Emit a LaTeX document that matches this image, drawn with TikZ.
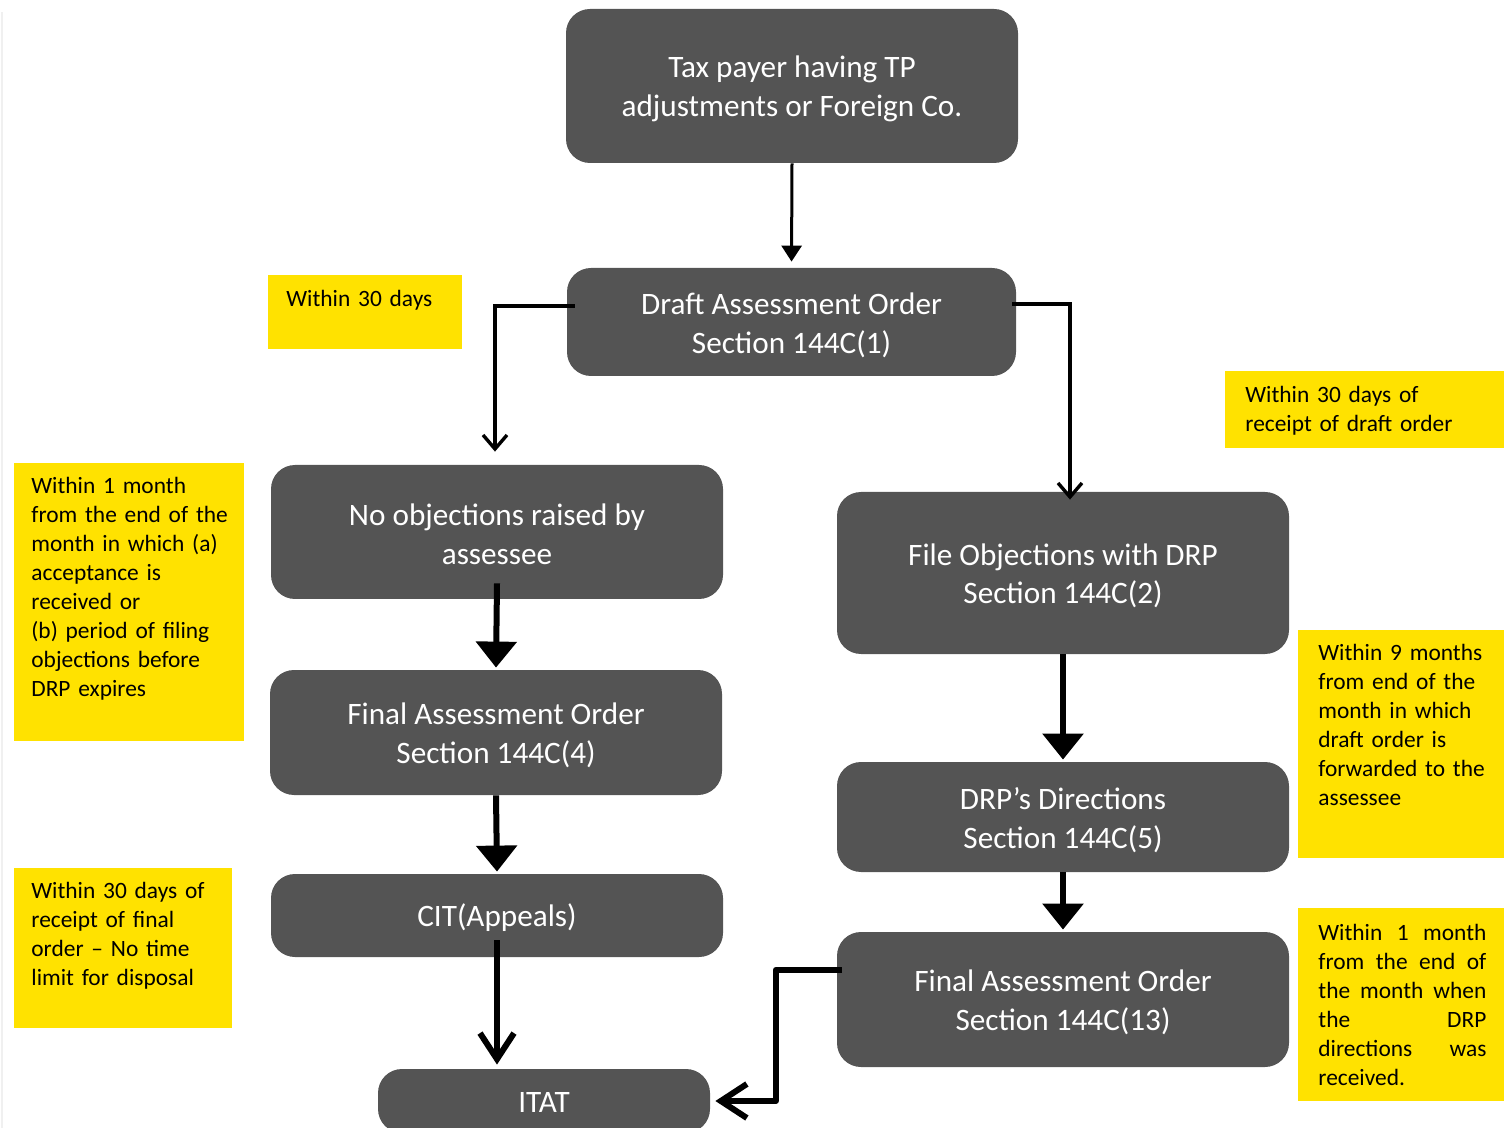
\documentclass[tikz,border=0pt]{standalone}
\usepackage{fontspec}
\setmainfont{Carlito}
\usetikzlibrary{arrows.meta,calc}
\definecolor{boxgray}{HTML}{545454}
\definecolor{tagyellow}{HTML}{FFE200}
\tikzset{
 flowbox/.style={fill=boxgray, rounded corners=12pt, inner sep=0pt},
 boxtext/.style={text=white, font=\fontsize{15.6}{19.3}\selectfont, align=center, inner sep=0pt},
 tagbox/.style={fill=tagyellow, inner sep=0pt},
 tagtext/.style={font=\fontsize{11.7}{14.5}\selectfont, text width=#1, align=left, inner sep=0pt, anchor=base west},
 thinarrow/.style={line width=1.5pt, -{Triangle[width=10pt,length=8pt]}},
 thinbarb/.style={line width=1.7pt, -{Straight Barb[width=12pt,length=7pt]}},
 thickarrow/.style={line width=3pt, -{Triangle[width=20pt,length=13pt]}},
 thickbarb/.style={line width=3pt, line join=round, -{Straight Barb[width=17pt,length=13pt]}},
}
\begin{document}
\begin{tikzpicture}[x=0.5pt,y=-0.5pt]
\useasboundingbox (0,0) rectangle (1511,1128);
\draw[gray!12, line width=1.2pt] (2,12) -- (2,1128);

% flow boxes
\node[flowbox, minimum width=226pt, minimum height=77pt] (b1) at (792,86) {};
\node[flowbox, minimum width=224.5pt, minimum height=54pt] (b2) at (791.5,322) {};
\node[flowbox, minimum width=226pt, minimum height=67pt] (b3) at (497,532) {};
\node[flowbox, minimum width=226pt, minimum height=62.5pt] (b4) at (496,732.5) {};
\node[flowbox, minimum width=226pt, minimum height=41.5pt] (b5) at (497,915.5) {};
\node[flowbox, minimum width=166pt, minimum height=32pt] (b6) at (544,1101) {};
\node[flowbox, minimum width=226pt, minimum height=81pt] (b7) at (1063,573) {};
\node[flowbox, minimum width=226pt, minimum height=55pt] (b8) at (1063,817) {};
\node[flowbox, minimum width=226pt, minimum height=67.5pt] (b9) at (1063,999.5) {};

\node[boxtext] (b1t) at ($(b1)+(0,3)$) {Tax payer having TP\\adjustments or Foreign Co.};
\node[boxtext] (b2t) at ($(b2)+(0,3.5)$) {Draft Assessment Order\\Section 144C(1)};
\node[boxtext] (b3t) at ($(b3)+(0,2)$) {No objections raised by\\assessee};
\node[boxtext] (b4t) at ($(b4)+(0,3)$) {Final Assessment Order\\Section 144C(4)};
\node[boxtext] (b5t) at ($(b5)+(0,2.5)$) {CIT(Appeals)};
\node[boxtext] (b6t) at ($(b6)+(0,1)$) {ITAT};
\node[boxtext] (b7t) at ($(b7)+(0,3)$) {File Objections with DRP\\Section 144C(2)};
\node[boxtext] (b8t) at ($(b8)+(0,3)$) {DRP’s Directions\\Section 144C(5)};
\node[boxtext] (b9t) at ($(b9)+(0,3)$) {Final Assessment Order\\Section 144C(13)};

% yellow notes
\node[tagbox, minimum width=97pt, minimum height=37pt] (y1) at (365,312) {};
\node[tagbox, minimum width=139.5pt, minimum height=38.5pt] (y2) at (1364.5,409.5) {};
\node[tagbox, minimum width=115pt, minimum height=139pt] (y3) at (129,602) {};
\node[tagbox, minimum width=109pt, minimum height=80pt] (y4) at (123,948) {};
\node[tagbox, minimum width=103pt, minimum height=114pt] (y5) at (1401,744) {};
\node[tagbox, minimum width=103pt, minimum height=96.5pt] (y6) at (1401,1004.5) {};

\node[tagtext=90pt] (y1t) at (286,307) {Within 30 days};
\node[tagtext=130pt] (y2t) at (1245,403) {Within 30 days of\\receipt of draft order};
\node[tagtext=105pt] (y3t) at (31,494) {Within 1 month\\from the end of the\\month in which (a)\\acceptance is\\received or\\(b) period of filing\\objections before\\DRP expires};
\node[tagtext=100pt] (y4t) at (31,898) {Within 30 days of\\receipt of final\\order -- No time\\limit for disposal};
\node[tagtext=95pt] (y5t) at (1318,661) {Within 9 months\\from end of the\\month in which\\draft order is\\forwarded to the\\assessee};
\node[tagtext=84pt] (y6t) at (1318,940) {Within\hfill 1\hfill month\\from\hfill the\hfill end\hfill of\\the\hfill month\hfill when\\the\hfill DRP\\directions\hfill was\\received.};

% connectors
\draw[thinarrow, shorten >=3pt] (b1.south) -- (b2.north);
\draw[thinbarb] ($(b2.west)+(8,-16)$) -| ($(b3.north)+(-2,-13)$);
\draw[thinbarb] ($(b2.east)+(-4,-18)$) -| ($(b7.north)+(7,8)$);
\draw[thickarrow] ($(b3.south)+(0,-16)$) -- ($(b4.north)+(0,-2)$);
\draw[thickarrow] (b4.south) -- ($(b5.north)+(0,-2)$);
\draw[thickbarb] ($(b5.south)+(0,-17)$) -- ($(b5.south |- b6.north)+(0,-4)$);
\draw[thickarrow] (b7.south) -- ($(b8.north)+(0,-2)$);
\draw[thickarrow] (b8.south) -- ($(b9.north)+(0,-2)$);
\draw[thickbarb] ($(b9.west)+(5,-29.5)$) -- ++(-66,0) |- ($(b6.east)+(5,0)$);
\end{tikzpicture}
\end{document}
